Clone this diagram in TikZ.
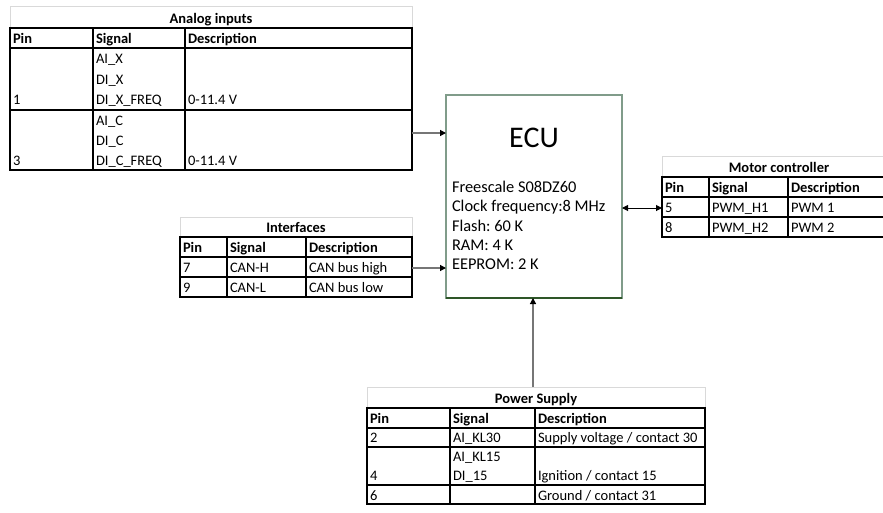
\documentclass[tikz,border=0pt]{standalone}
\usepackage{fontspec}
\setmainfont{Carlito}
\usetikzlibrary{arrows.meta, positioning, calc}
\frenchspacing

\definecolor{gridgray}{RGB}{217,217,217}
\definecolor{eculine}{RGB}{128,156,138}
\definecolor{ecubottom}{RGB}{46,86,40}
\definecolor{linkgray}{RGB}{118,118,118}

\begin{document}
\begin{tikzpicture}[
    x=1pt, y=-1pt,
    every node/.style={font=\fontsize{14.5}{17}\selectfont, inner sep=0pt, outer sep=0pt},
    celltext/.style={anchor=base west},
    headtext/.style={anchor=base west, font=\fontsize{14.5}{17}\selectfont\bfseries},
    titletext/.style={anchor=base, font=\fontsize{14.5}{17}\selectfont\bfseries},
    tabframe/.style={draw=gridgray, line width=1pt, anchor=north west},
    tabline/.style={draw=black, line width=1.6pt},
    link/.style={draw=linkgray, line width=1.2pt, -{Triangle[length=6pt, width=6pt, color=black]}},
    linkboth/.style={draw=black, line width=1pt,
      {Triangle[length=6pt, width=6pt]}-{Triangle[length=6pt, width=6pt]}},
  ]
  \clip (0,0) rectangle (883,512);

  % ECU block
  \node[draw=eculine, line width=1.3pt, minimum width=176pt, minimum height=203pt,
    anchor=north west] (ecu) at (446,95) {};
  \draw[ecubottom, line width=1.3pt] (ecu.south west) -- (ecu.south east);
  \node[font=\fontsize{30}{36}\selectfont] (ecutitle) at (534,138) {ECU};
  \foreach \spec [count=\i] in {Freescale S08DZ60, Clock frequency:8 MHz,
      Flash: 60 K, RAM: 4 K, EEPROM: 2 K}
    \node[anchor=base west, font=\fontsize{16.4}{19}\selectfont] (spec\i)
      at (452, 173.2+19.3*\i) {\spec};

  % Analog inputs
  \node[tabframe, minimum width=402pt, minimum height=164pt] (analog) at (10,6) {};
  \draw[tabline] (10,28) rectangle (412,170);
  \draw[tabline] (10,48) -- (412,48) (10,110) -- (412,110);
  \draw[tabline] (93,28) -- (93,170) (185,28) -- (185,170);
  \node[titletext] (antitle) at (211,23) {Analog inputs};
  \node[headtext] (anpin) at (13,43) {Pin};
  \node[headtext] (ansig) at (96,43) {Signal};
  \node[headtext] (andesc) at (188,43) {Description};
  \foreach \s [count=\i] in {AI\_X, DI\_X, DI\_X\_FREQ}
    \node[celltext] (anx\i) at (96, 43+20.5*\i) {\s};
  \node[celltext] (anpin1) at (13,104.5) {1};
  \node[celltext] (andesc1) at (188,104.5) {0-11.4 V};
  \foreach \s [count=\i] in {AI\_C, DI\_C, DI\_C\_FREQ}
    \node[celltext] (anc\i) at (96, 105+20*\i) {\s};
  \node[celltext] (anpin3) at (13,165) {3};
  \node[celltext] (andesc3) at (188,165) {0-11.4 V};

  % Interfaces
  \node[tabframe, minimum width=232pt, minimum height=80pt] (iface) at (180,217) {};
  \draw[tabline] (180,237) rectangle (412,297);
  \draw[tabline] (180,257) -- (412,257) (180,277) -- (412,277);
  \draw[tabline] (227,237) -- (227,297) (306,237) -- (306,297);
  \node[titletext] (iftitle) at (296,232) {Interfaces};
  \node[headtext] (ifpin) at (183,252) {Pin};
  \node[headtext] (ifsig) at (230,252) {Signal};
  \node[headtext] (ifdesc) at (309,252) {Description};
  \node[celltext] (ifpin7) at (183,272) {7};
  \node[celltext] (ifsig7) at (230,272) {CAN-H};
  \node[celltext] (ifdesc7) at (309,272) {CAN bus high};
  \node[celltext] (ifpin9) at (183,292) {9};
  \node[celltext] (ifsig9) at (230,292) {CAN-L};
  \node[celltext] (ifdesc9) at (309,292) {CAN bus low};

  % Motor controller
  \node[tabframe, minimum width=234pt, minimum height=81pt] (motor) at (662,156) {};
  \draw[tabline] (662,177) rectangle (896,237);
  \draw[tabline] (662,197) -- (896,197) (662,217) -- (896,217);
  \draw[tabline] (709,177) -- (709,237) (788,177) -- (788,237);
  \node[titletext] (mctitle) at (779,172) {Motor controller};
  \node[headtext] (mcpin) at (665,192) {Pin};
  \node[headtext] (mcsig) at (712,192) {Signal};
  \node[headtext] (mcdesc) at (791,192) {Description};
  \node[celltext] (mcpin5) at (665,212) {5};
  \node[celltext] (mcsig5) at (712,212) {PWM\_H1};
  \node[celltext] (mcdesc5) at (791,212) {PWM 1};
  \node[celltext] (mcpin8) at (665,232) {8};
  \node[celltext] (mcsig8) at (712,232) {PWM\_H2};
  \node[celltext] (mcdesc8) at (791,232) {PWM 2};

  % Power supply
  \node[tabframe, minimum width=338pt, minimum height=117pt] (power) at (367,387) {};
  \draw[tabline] (367,408) rectangle (705,504);
  \draw[tabline] (367,428) -- (705,428) (367,447) -- (705,447) (367,485) -- (705,485);
  \draw[tabline] (450,408) -- (450,504) (535,408) -- (535,504);
  \node[titletext] (pstitle) at (536,403) {Power Supply};
  \node[headtext] (pspin) at (370,423) {Pin};
  \node[headtext] (pssig) at (453,423) {Signal};
  \node[headtext] (psdesc) at (538,423) {Description};
  \node[celltext] (pspin2) at (370,442) {2};
  \node[celltext] (pssig2) at (453,442) {AI\_KL30};
  \node[celltext] (psdesc2) at (538,442) {Supply voltage / contact 30};
  \node[celltext] (pssig4a) at (453,461) {AI\_KL15};
  \node[celltext] (pspin4) at (370,480) {4};
  \node[celltext] (pssig4b) at (453,480) {DI\_15};
  \node[celltext] (psdesc4) at (538,480) {Ignition / contact 15};
  \node[celltext] (pspin6) at (370,500) {6};
  \node[celltext] (psdesc6) at (538,500) {Ground / contact 31};

  % connectors
  \draw[link] (analog.east |- 0,133) -- (ecu.west |- 0,133);
  \draw[link] (iface.east |- 0,268) -- (ecu.west |- 0,268);
  \draw[linkboth] (ecu.east |- 0,208) -- (motor.west |- 0,208);
  \draw[link] (power.north -| 533,0) -- (ecu.south -| 533,0);
\end{tikzpicture}
\end{document}
